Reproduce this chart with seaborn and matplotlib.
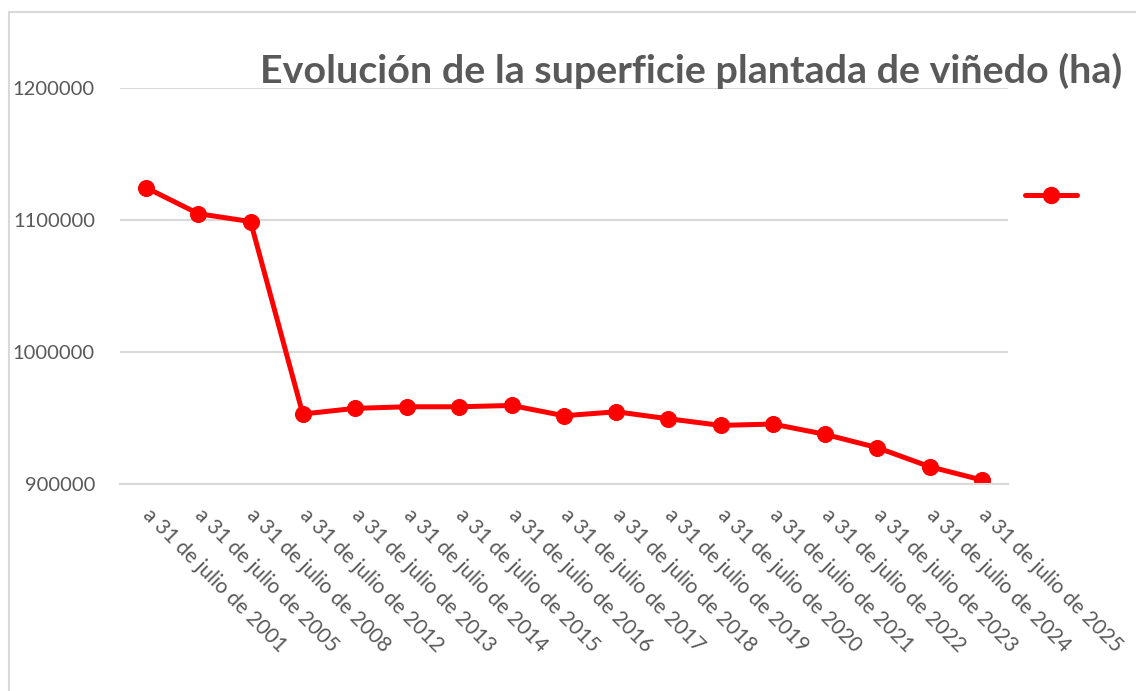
import matplotlib
matplotlib.use("Agg")
import matplotlib.pyplot as plt
import pandas as pd
import seaborn as sns
from matplotlib.lines import Line2D
from matplotlib.patches import Rectangle

# Data
years = [2001, 2005, 2008, 2012, 2013, 2014, 2015, 2016, 2017,
         2018, 2019, 2020, 2021, 2022, 2023, 2024, 2025]
labels = [f"a 31 de julio de {y}" for y in years]
superficie = [1124500, 1104800, 1098800, 953000, 957300, 958500, 958500,
              959500, 951700, 954700, 949400, 944400, 945400, 937600,
              927500, 913100, 903000]
y_ticks = [900000, 1000000, 1100000, 1200000]

title = "Evolución de la superficie plantada de viñedo (ha)"
text_grey = "#595959"
grid_grey = "#d9d9d9"
red = "#ff0000"

sns.set_theme(style="white")
plt.rcParams["font.family"] = ["Lato", "DejaVu Sans"]

df = pd.DataFrame({"fecha": labels, "ha": superficie})

fig = plt.figure(figsize=(11.36, 6.91), dpi=100)
ax = fig.add_axes([0.1056, 0.2996, 0.7817, 0.573])

sns.lineplot(data=df, x="fecha", y="ha", ax=ax, sort=False, color=red,
             linewidth=3.6, marker="o", markersize=11.5,
             markeredgecolor=red, markerfacecolor=red)

ax.set_xlim(-0.5, len(labels) - 0.5)
ax.set_ylim(y_ticks[0], y_ticks[-1])
ax.set_yticks(y_ticks)
ax.set_yticklabels([str(v) for v in y_ticks])
ax.set_xticks(range(len(labels)))
ax.set_xticklabels(labels, rotation=-45, ha="left", va="center",
                   rotation_mode="anchor")
ax.set_xlabel("")
ax.set_ylabel("")

ax.grid(axis="y", color=grid_grey, linewidth=1.5)
ax.set_axisbelow(True)
for side in ["top", "right", "left"]:
    ax.spines[side].set_visible(False)
ax.spines["bottom"].set_color(grid_grey)
ax.spines["bottom"].set_linewidth(1.5)

ax.tick_params(axis="y", length=0, pad=18, labelsize=14.5, labelcolor=text_grey)
ax.tick_params(axis="x", length=0, pad=20, labelsize=15, labelcolor=text_grey)

fig.text(0.608, 0.898, title, ha="center", va="center", fontsize=28.4,
         fontweight="bold", color=text_grey)

# Legend with an unlabeled entry at the right, as in the reference
handle = Line2D([], [], color=red, linewidth=3.6, marker="o",
                markersize=11.5, markerfacecolor=red, markeredgecolor=red)
fig.legend([handle], [""], loc="center", bbox_to_anchor=(0.925, 0.716),
           frameon=False, handlelength=3.4, handletextpad=0, borderpad=0)

# chart-area border
fig.add_artist(Rectangle((0.008, -0.05), 1.5, 1.0326,
                         transform=fig.transFigure, fill=False,
                         edgecolor=grid_grey, linewidth=1.5))

fig.savefig("out.png", dpi=100)
